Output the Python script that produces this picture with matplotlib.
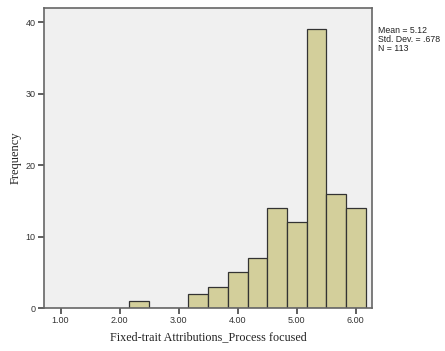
import matplotlib
matplotlib.use("Agg")
import matplotlib.pyplot as plt
import numpy as np

# Data
bin_centers = [7/3, 8/3, 3.0, 10/3, 11/3, 4.0, 13/3, 14/3, 5.0, 16/3, 17/3, 6.0]
counts = [1, 0, 0, 2, 3, 5, 7, 14, 12, 39, 16, 14]
bin_width = 1/3
x_ticks = [1.0, 2.0, 3.0, 4.0, 5.0, 6.0]
x_tick_labels = ["1.00", "2.00", "3.00", "4.00", "5.00", "6.00"]
y_ticks = [0, 10, 20, 30, 40]
stats_text = "Mean = 5.12\nStd. Dev. = .678\nN = 113"
x_label = "Fixed-trait Attributions_Process focused"
y_label = "Frequency"

fig = plt.figure(figsize=(4.45, 3.51), dpi=100)
ax = fig.add_axes([44/445, 43/351, (372-44)/445, (308-8)/351])
ax.set_facecolor("#f0f0f0")

ax.bar(bin_centers, counts, width=bin_width, color="#d3cf9b",
       edgecolor="#333333", linewidth=0.9, zorder=2)

ax.set_xlim(0.72, 6.275)
ax.set_ylim(0, 42)
ax.set_xticks(x_ticks)
ax.set_xticklabels(x_tick_labels, fontfamily="Liberation Sans", fontsize=6.5, color="#333333")
ax.set_yticks(y_ticks)
ax.set_yticklabels([str(v) for v in y_ticks], fontfamily="Liberation Sans", fontsize=6.5, color="#333333")
ax.tick_params(axis="both", direction="out", length=4, width=1.2, color="#444444", pad=2)

for s in ax.spines.values():
    s.set_color("#666666")
    s.set_linewidth(1.2)

ax.set_xlabel(x_label, fontfamily="Liberation Serif", fontsize=8.7, labelpad=4, color="#222222")
ax.set_ylabel(y_label, fontfamily="Liberation Serif", fontsize=9, labelpad=3, color="#222222")

fig.text(378/445, 1 - 26/351, stats_text, fontfamily="Liberation Sans",
         fontsize=6.3, va="top", ha="left", linespacing=1.0, color="#222222")

fig.savefig("out.png", dpi=100, facecolor="white")
